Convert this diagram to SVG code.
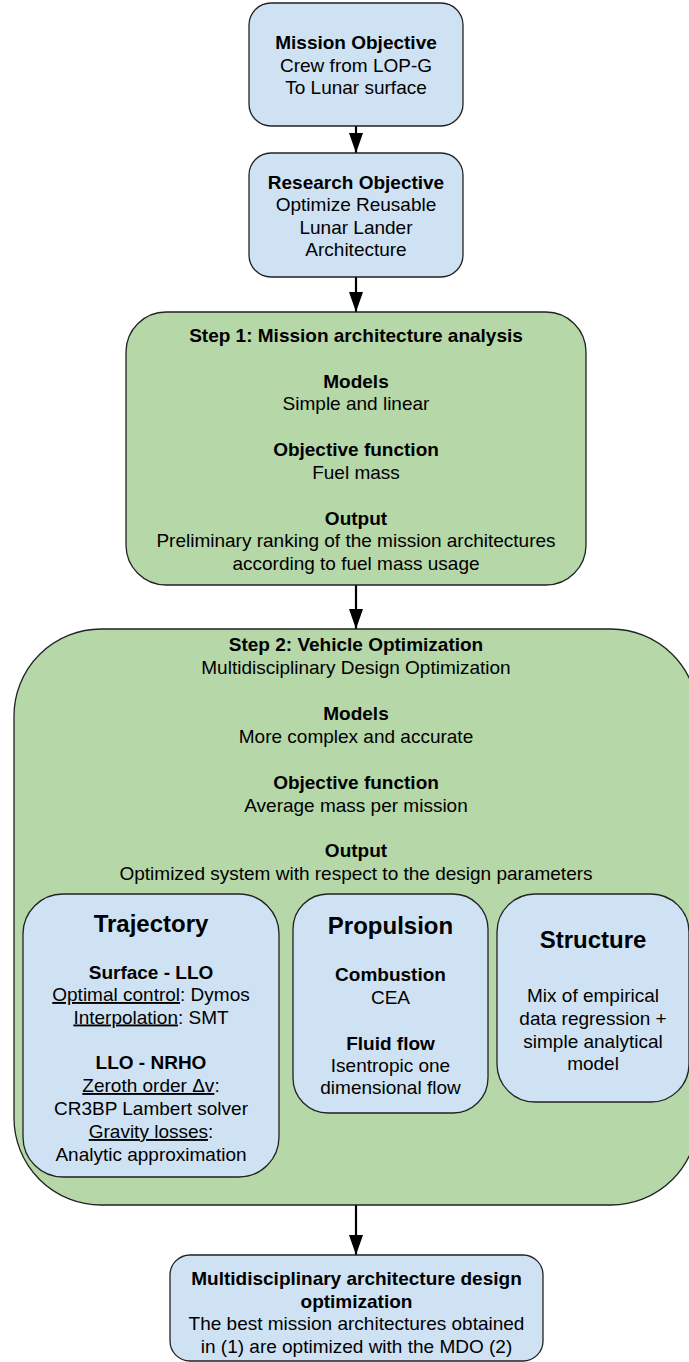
<svg xmlns="http://www.w3.org/2000/svg" width="689" height="1362" viewBox="0 0 689 1362">
<defs>
<marker id="arrow" markerUnits="userSpaceOnUse" markerWidth="20" markerHeight="14" refX="20" refY="7" orient="auto">
<path d="M0,0 L20,7 L0,14 z" fill="#000"/>
</marker>
<style>
.blue{fill:#cfe2f3;stroke:#222;stroke-width:1.3}
.green{fill:#b6d7a8;stroke:#222;stroke-width:1.3}
text{font-family:"Liberation Sans",Arial,sans-serif;font-size:19px;fill:#000;text-anchor:middle}
.b{font-weight:bold}
.h{font-size:24px;font-weight:bold}
.u{text-decoration:underline}
.conn{stroke:#000;stroke-width:2.2;fill:none}
</style>
</defs>
<rect width="689" height="1362" fill="#fff"/>
<g id="connectors">
<line class="conn" x1="356" y1="126" x2="356" y2="153" marker-end="url(#arrow)"/>
<line class="conn" x1="356" y1="277" x2="356" y2="312" marker-end="url(#arrow)"/>
<line class="conn" x1="356" y1="585" x2="356" y2="629" marker-end="url(#arrow)"/>
<line class="conn" x1="356" y1="1205" x2="356" y2="1255" marker-end="url(#arrow)"/>
</g>
<g id="mission-objective">
<rect class="blue" x="249" y="3" width="214" height="123" rx="22"/>
<text x="356" y="49" class="b">Mission Objective</text>
<text x="356" y="71.5">Crew from LOP-G</text>
<text x="356" y="94">To Lunar surface</text>
</g>
<g id="research-objective">
<rect class="blue" x="249" y="153" width="214" height="124" rx="22"/>
<text x="356" y="188.5" class="b">Research Objective</text>
<text x="356" y="211">Optimize Reusable</text>
<text x="356" y="233.5">Lunar Lander</text>
<text x="356" y="256">Architecture</text>
</g>
<g id="step1">
<rect class="green" x="126" y="312" width="460" height="273" rx="40"/>
<text x="356" y="341.5" class="b">Step 1: Mission architecture analysis</text>
<text x="356" y="387.5" class="b">Models</text>
<text x="356" y="410">Simple and linear</text>
<text x="356" y="456" class="b">Objective function</text>
<text x="356" y="478.5">Fuel mass</text>
<text x="356" y="524.5" class="b">Output</text>
<text x="356" y="547">Preliminary ranking of the mission architectures</text>
<text x="356" y="569.5">according to fuel mass usage</text>
</g>
<g id="step2">
<rect class="green" x="14" y="629" width="684" height="576" rx="87"/>
<text x="356" y="650.5" class="b">Step 2: Vehicle Optimization</text>
<text x="356" y="673.5">Multidisciplinary Design Optimization</text>
<text x="356" y="719.5" class="b">Models</text>
<text x="356" y="742.5">More complex and accurate</text>
<text x="356" y="788.5" class="b">Objective function</text>
<text x="356" y="811.5">Average mass per mission</text>
<text x="356" y="856.5" class="b">Output</text>
<text x="356" y="879.5">Optimized system with respect to the design parameters</text>
</g>
<g id="trajectory">
<rect class="blue" x="23" y="894" width="256" height="283" rx="40"/>
<text x="151" y="931.5" class="h">Trajectory</text>
<text x="151" y="978.5" class="b">Surface - LLO</text>
<text x="151" y="1001"><tspan class="u">Optimal control</tspan>: Dymos</text>
<text x="151" y="1023.5"><tspan class="u">Interpolation</tspan>: SMT</text>
<text x="151" y="1069" class="b">LLO - NRHO</text>
<text x="151" y="1092"><tspan class="u">Zeroth order Δv</tspan>:</text>
<text x="151" y="1114.5">CR3BP Lambert solver</text>
<text x="151" y="1138"><tspan class="u">Gravity losses</tspan>:</text>
<text x="151" y="1161">Analytic approximation</text>
</g>
<g id="propulsion">
<rect class="blue" x="293" y="894" width="195" height="219" rx="35"/>
<text x="390.5" y="933.5" class="h">Propulsion</text>
<text x="390.5" y="980.5" class="b">Combustion</text>
<text x="390.5" y="1003.5">CEA</text>
<text x="390.5" y="1049.5" class="b">Fluid flow</text>
<text x="390.5" y="1072">Isentropic one</text>
<text x="390.5" y="1094">dimensional flow</text>
</g>
<g id="structure">
<rect class="blue" x="497" y="894" width="192" height="208" rx="38"/>
<text x="593" y="947.5" class="h">Structure</text>
<text x="593" y="1001.5">Mix of empirical</text>
<text x="593" y="1024.5">data regression +</text>
<text x="593" y="1047.5">simple analytical</text>
<text x="593" y="1070">model</text>
</g>
<g id="mado">
<rect class="blue" x="170" y="1255" width="373" height="106" rx="20"/>
<text x="356.5" y="1284.5" class="b">Multidisciplinary architecture design</text>
<text x="356.5" y="1307.5" class="b">optimization</text>
<text x="356.5" y="1330">The best mission architectures obtained</text>
<text x="356.5" y="1352.5">in (1) are optimized with the MDO (2)</text>
</g>
</svg>
